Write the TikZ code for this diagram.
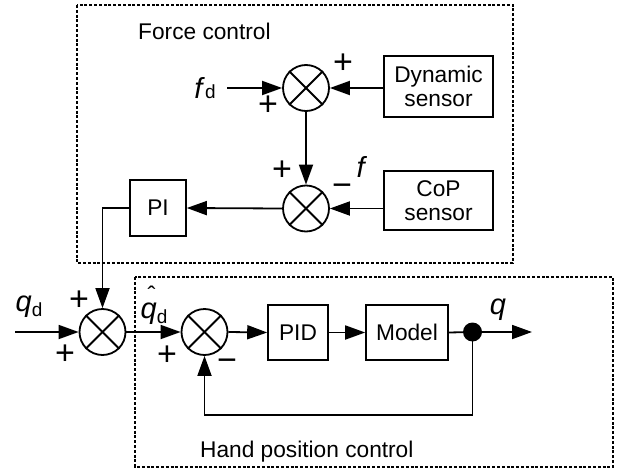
\documentclass[tikz,border=0pt]{standalone}
\usepackage{fontspec}
\setmainfont{Liberation Sans}
\usetikzlibrary{arrows.meta,calc}
\tikzset{
  every node/.style={font=\fontsize{22.7}{25}\selectfont},
  blk/.style={draw, line width=1.6pt, align=center, inner sep=0pt},
  sumnode/.style={draw, circle, line width=1.8pt, minimum size=46pt, inner sep=0pt},
  arr/.style={line width=1.8pt, -{Triangle[length=20pt,width=14pt]}},
  ln/.style={line width=1.8pt},
  frame/.style={line width=1.3pt, dash pattern=on 3pt off 1.8pt},
  sgn/.style={font=\fontsize{34}{34}\selectfont, inner sep=0pt},
  lbl/.style={font=\fontsize{29}{29}\selectfont, inner sep=0pt},
  dotnode/.style={circle, fill=black, minimum size=19pt, inner sep=0pt},
}
\newcommand{\subd}{{\fontsize{19}{19}\selectfont d}}
\newcommand{\qhatlbl}{\rlap{\hspace{7pt}\raisebox{15pt}{\fontsize{24}{24}\selectfont ˆ}}\textit{q}}
\begin{document}
\begin{tikzpicture}[x=1pt,y=-1pt]
\useasboundingbox (0,0) rectangle (623,468);
% frames
\draw[frame] (77,5) rectangle (513,263);
\draw[frame] (135,277) rectangle (613,467);
\node[anchor=base west, inner sep=0pt] (fctitle) at (138,40) {Force control};
\node[anchor=base west, inner sep=0pt] (hptitle) at (200,457) {Hand position control};
% force control
\node[sumnode] (s1) at (306,88) {};
\node[sumnode] (s2) at (306,208.5) {};
\node[blk, minimum width=109pt, minimum height=61pt] (dyn) at (438.5,86.5) {Dynamic\\[-1pt]sensor};
\node[blk, minimum width=109pt, minimum height=59pt] (cop) at (438.5,200.5) {CoP\\[-1pt]sensor};
\node[blk, minimum width=56pt, minimum height=56pt] (pi) at (158,208) {PI};
% position control
\node[sumnode] (s3) at (102.5,332) {};
\node[sumnode] (s4) at (204.5,332) {};
\node[blk, minimum width=60pt, minimum height=55pt] (pid) at (298,332.5) {PID};
\node[blk, minimum width=82pt, minimum height=55pt] (model) at (407,332.5) {Model};
\node[dotnode] (dot) at (472.5,332) {};
% crosses
\foreach \s in {s1,s2,s3,s4}{
  \draw[ln] (\s.north west) -- (\s.south east);
  \draw[ln] (\s.north east) -- (\s.south west);
}
% coordinates
\coordinate (fdin) at (227,88);
\coordinate (qdin) at (15,332);
\coordinate (qout) at (532,332);
\coordinate (fbk) at (472.5,415);
% connectors
\draw[arr] (fdin) -- (s1.west);
\draw[arr] (dyn.west |- s1) -- (s1.east);
\draw[arr] (s1.south) -- (s2.north);
\draw[arr] (cop.west |- s2) -- (s2.east);
\draw[arr] (s2.west) -- (pi.east);
\draw[arr] (pi.west) -| (s3.north);
\draw[arr] (qdin) -- (s3.west);
\draw[arr] (s3.east) -- (s4.west);
\draw[arr] (s4.east) -- (pid.west);
\draw[arr] (pid.east) -- (model.west);
\draw[ln] (model.east) -- (dot);
\draw[arr] (dot) -- (qout);
\draw[arr] (dot.center) -- (fbk) -| (s4.south);
% signs
\node[sgn] (p1) at (343,64) {+};
\node[sgn] (p2) at (268,106) {+};
\node[sgn] (p3) at (282,171) {+};
\node[sgn] (m1) at (342,190) {−};
\node[sgn] (p4) at (79,301) {+};
\node[sgn] (p5) at (65,355) {+};
\node[sgn] (p6) at (167,356) {+};
\node[sgn] (m2) at (227,365) {−};
% labels
\node[lbl] (fd) at (205,88) {\textit{f}\subd};
\node[lbl] (f) at (362,167) {\textit{f}};
\node[lbl] (qd) at (29,307) {\textit{q}\raisebox{-5pt}{\subd}};
\node[lbl] (qhd) at (154,305) {\qhatlbl\raisebox{-5pt}{\subd}};
\node[lbl] (q) at (498,310) {\textit{q}};
\end{tikzpicture}
\end{document}
